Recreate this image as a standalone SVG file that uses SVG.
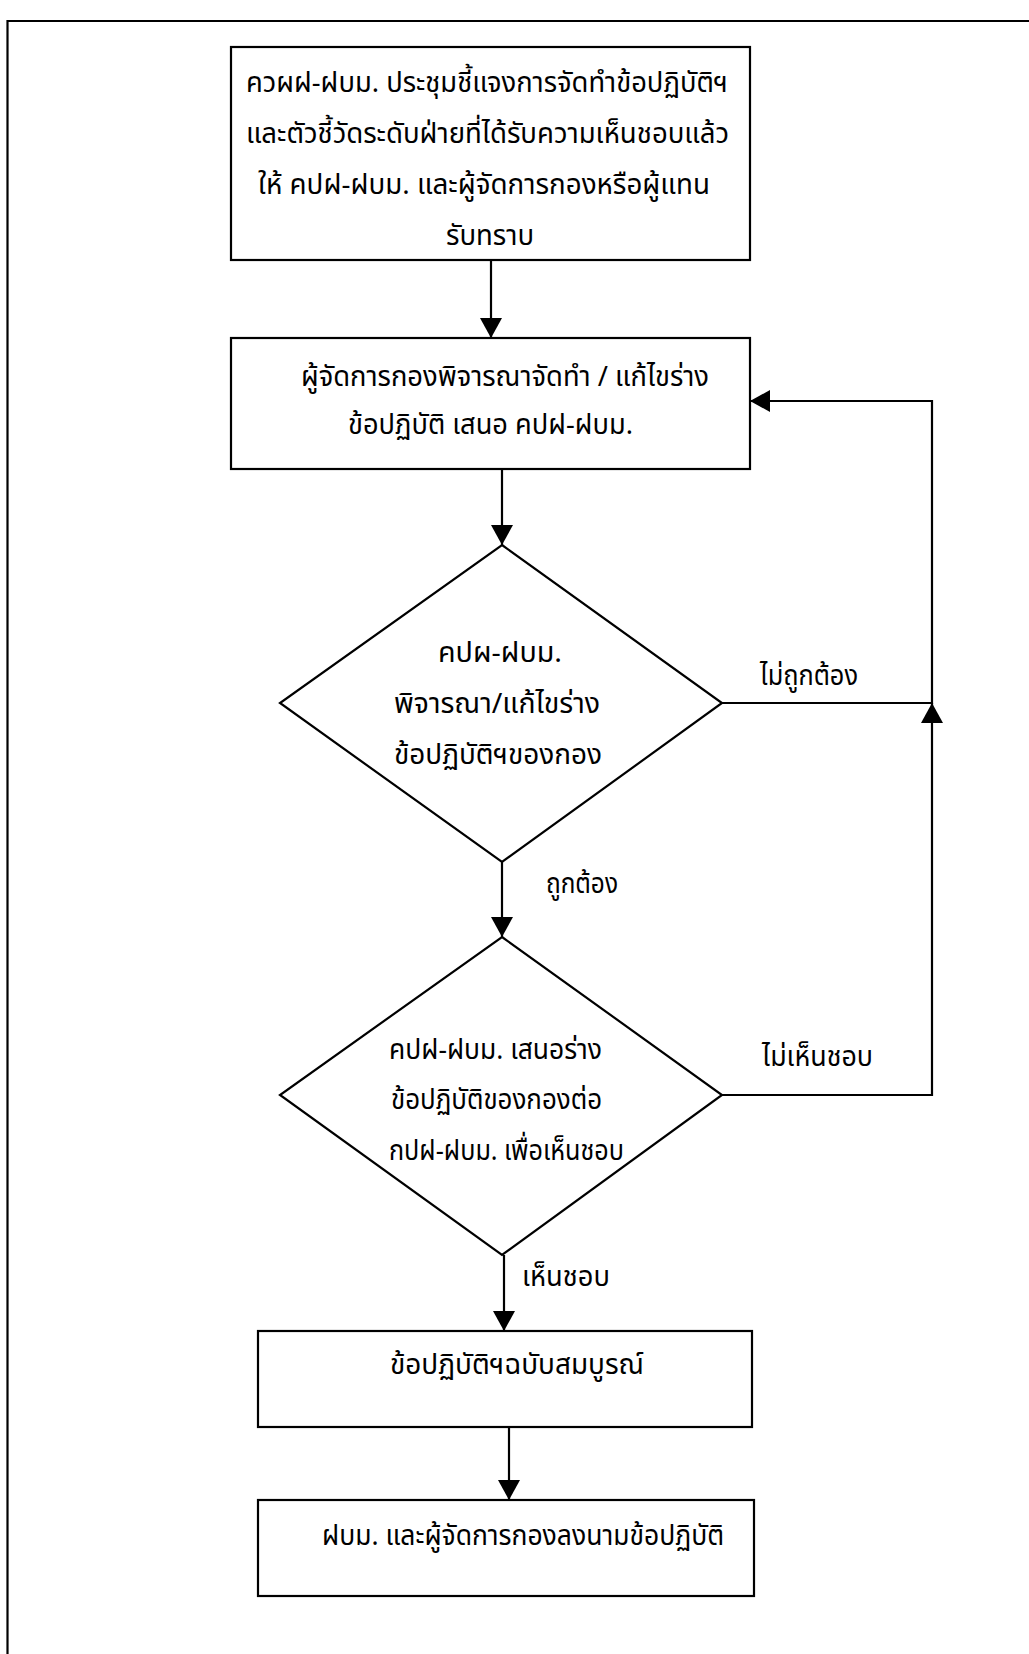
<svg xmlns="http://www.w3.org/2000/svg" width="1029" height="1654" viewBox="0 0 1029 1654">
<style>
.box{fill:#fff;stroke:#000;stroke-width:2.2}
.ln{fill:none;stroke:#000;stroke-width:2.2}
text{font-family:"Noto Sans Thai","Noto Sans","Liberation Sans",sans-serif;font-size:28px;fill:#000}
</style>
<defs>
<marker id="ah" viewBox="0 0 20 22" refX="20" refY="11" markerWidth="20" markerHeight="22" markerUnits="userSpaceOnUse" orient="auto">
<path d="M0,0 L20,11 L0,22 z" fill="#000"/>
</marker>
</defs>
<rect width="1029" height="1654" fill="#fff"/>
<g id="frame"><path class="ln" d="M7.5,1660 L7.5,21 L1035,21"/></g>
<g id="n1">
<rect class="box" x="231" y="47" width="519" height="213"/>
<text x="246" y="92" textLength="482" lengthAdjust="spacingAndGlyphs">ควผฝ-ฝบม. ประชุมชี้แจงการจัดทำข้อปฏิบัติฯ</text>
<text x="246" y="143" textLength="483" lengthAdjust="spacingAndGlyphs">และตัวชี้วัดระดับฝ่ายที่ได้รับความเห็นชอบแล้ว</text>
<text x="258" y="194" textLength="452" lengthAdjust="spacingAndGlyphs">ให้ คปฝ-ฝบม. และผู้จัดการกองหรือผู้แทน</text>
<text x="446" y="245" textLength="88" lengthAdjust="spacingAndGlyphs">รับทราบ</text>
</g>
<g id="n2">
<rect class="box" x="231" y="338" width="519" height="131"/>
<text x="301" y="386" textLength="408" lengthAdjust="spacingAndGlyphs">ผู้จัดการกองพิจารณาจัดทำ / แก้ไขร่าง</text>
<text x="348" y="434" textLength="285" lengthAdjust="spacingAndGlyphs">ข้อปฏิบัติ เสนอ คปฝ-ฝบม.</text>
</g>
<g id="n3">
<polygon class="box" points="502,545 722,703 502,862 280,703"/>
<text x="438" y="662" textLength="124" lengthAdjust="spacingAndGlyphs">คปผ-ฝบม.</text>
<text x="394" y="713" textLength="206" lengthAdjust="spacingAndGlyphs">พิจารณา/แก้ไขร่าง</text>
<text x="394" y="764" textLength="208" lengthAdjust="spacingAndGlyphs">ข้อปฏิบัติฯของกอง</text>
</g>
<g id="n4">
<polygon class="box" points="502,937 722,1095 502,1255 280,1095"/>
<text x="389" y="1059" textLength="213" lengthAdjust="spacingAndGlyphs">คปฝ-ฝบม. เสนอร่าง</text>
<text x="391" y="1109" textLength="211" lengthAdjust="spacingAndGlyphs">ข้อปฏิบัติของกองต่อ</text>
<text x="389" y="1160" textLength="235" lengthAdjust="spacingAndGlyphs">กปฝ-ฝบม. เพื่อเห็นชอบ</text>
</g>
<g id="n5">
<rect class="box" x="258" y="1331" width="494" height="96"/>
<text x="390" y="1374" textLength="254" lengthAdjust="spacingAndGlyphs">ข้อปฏิบัติฯฉบับสมบูรณ์</text>
</g>
<g id="n6">
<rect class="box" x="258" y="1500" width="496" height="96"/>
<text x="322" y="1545" textLength="402" lengthAdjust="spacingAndGlyphs">ฝบม. และผู้จัดการกองลงนามข้อปฏิบัติ</text>
</g>
<g id="connectors">
<path class="ln" d="M491,260 L491,338" marker-end="url(#ah)"/>
<path class="ln" d="M502,469 L502,545" marker-end="url(#ah)"/>
<path class="ln" d="M502,862 L502,937" marker-end="url(#ah)"/>
<path class="ln" d="M504,1255 L504,1331" marker-end="url(#ah)"/>
<path class="ln" d="M509,1427 L509,1500" marker-end="url(#ah)"/>
<path class="ln" d="M722,1095 L932,1095 L932,703" marker-end="url(#ah)"/>
<path class="ln" d="M722,703 L932,703 L932,401 L750,401" marker-end="url(#ah)"/>
<text x="760" y="685" textLength="98" lengthAdjust="spacingAndGlyphs">ไม่ถูกต้อง</text>
<text x="546" y="893" textLength="72" lengthAdjust="spacingAndGlyphs">ถูกต้อง</text>
<text x="762" y="1066" textLength="111" lengthAdjust="spacingAndGlyphs">ไม่เห็นชอบ</text>
<text x="522" y="1286" textLength="88" lengthAdjust="spacingAndGlyphs">เห็นชอบ</text>
</g>
</svg>
